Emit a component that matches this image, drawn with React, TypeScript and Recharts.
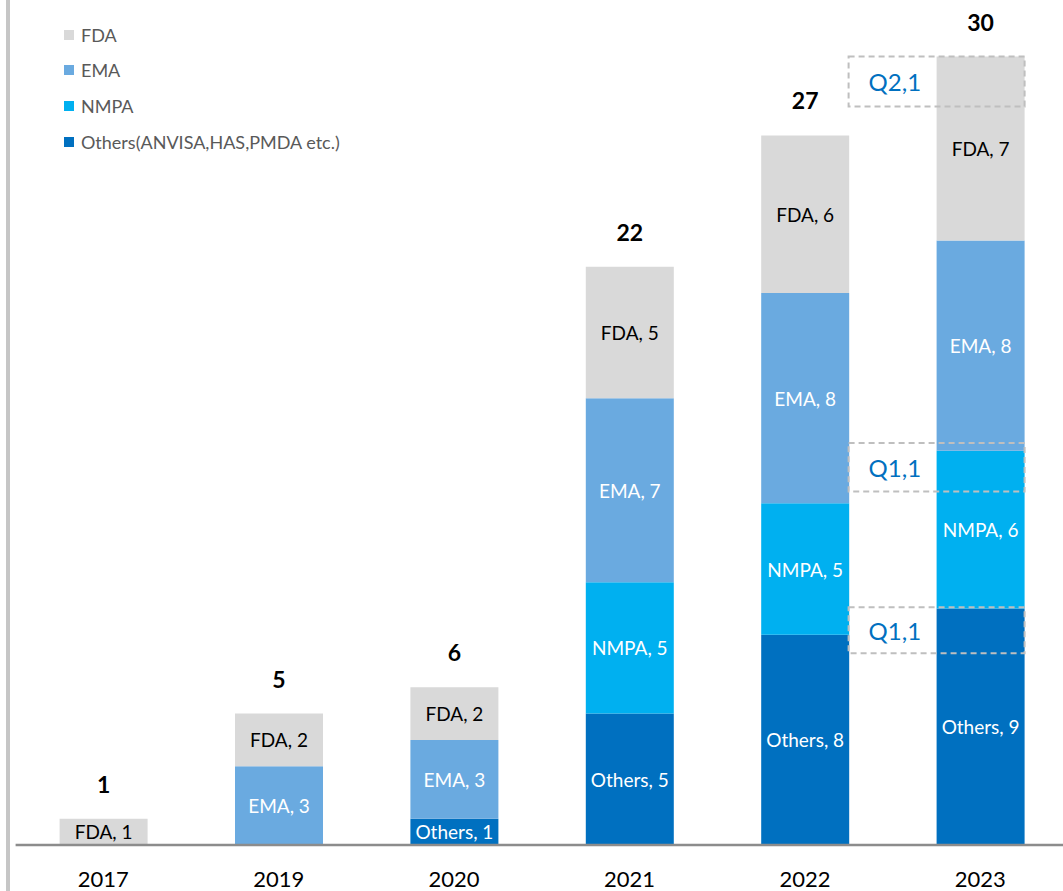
import React from 'react';
import { BarChart, Bar, XAxis, YAxis, LabelList } from 'recharts';

const years = ['2017', '2019', '2020', '2021', '2022', '2023'];
const othersValues = [0, 0, 1, 5, 8, 9];
const nmpaValues = [0, 0, 0, 5, 5, 6];
const emaValues = [0, 3, 3, 7, 8, 8];
const fdaValues = [1, 2, 2, 5, 6, 7];

const seriesInfo = [
  { key: 'others', short: 'Others', legend: 'Others(ANVISA,HAS,PMDA etc.)', color: '#0070C0', text: '#FFFFFF', values: othersValues },
  { key: 'nmpa', short: 'NMPA', legend: 'NMPA', color: '#00B0F0', text: '#FFFFFF', values: nmpaValues },
  { key: 'ema', short: 'EMA', legend: 'EMA', color: '#6AAAE0', text: '#FFFFFF', values: emaValues },
  { key: 'fda', short: 'FDA', legend: 'FDA', color: '#D9D9D9', text: '#000000', values: fdaValues },
];

// quarter annotations: attached to a segment; span given in value units below the segment top
const quarterNotes = [
  { year: '2023', series: 'fda', label: 'Q2,1', from: 0, to: 1.9 },
  { year: '2023', series: 'nmpa', label: 'Q1,1', from: -0.3, to: 1.55 },
  { year: '2023', series: 'others', label: 'Q1,1', from: -0.05, to: 1.7 },
];

const data = years.map((year, i) => ({
  year,
  others: othersValues[i],
  nmpa: nmpaValues[i],
  ema: emaValues[i],
  fda: fdaValues[i],
  total: othersValues[i] + nmpaValues[i] + emaValues[i] + fdaValues[i],
}));

const FONT = 'Lato, sans-serif';

const makeSegmentLabel = (name: string, color: string) => (props: any) => {
  const { x, y, width, height, value } = props;
  if (!value) return null;
  return (
    <text
      x={Number(x) + Number(width) / 2}
      y={Number(y) + Number(height) / 2}
      textAnchor="middle"
      dominantBaseline="central"
      fill={color}
      fontSize={19}
      fontFamily={FONT}
    >
      {`${name}, ${value}`}
    </text>
  );
};

const makeNote = (seriesKey: string, values: number[]) => (props: any) => {
  const { x, y, width, height, value } = props;
  const note = quarterNotes.find((n) => n.series === seriesKey && n.year === value);
  if (!note) return null;
  const i = years.indexOf(String(value));
  const segVal = values[i];
  if (!segVal) return null;
  const ppu = Number(height) / segVal;
  const bx = Number(x);
  const bw = Number(width);
  const left = bx - bw;
  const right = bx + bw;
  const top = Number(y) + note.from * ppu;
  const bottom = Number(y) + note.to * ppu;
  return (
    <g>
      <rect
        x={left}
        y={top}
        width={right - left}
        height={bottom - top}
        fill="none"
        stroke="#BFBFBF"
        strokeWidth={2}
        strokeDasharray="6 4"
      />
      <text
        x={left + 20}
        y={(top + bottom) / 2}
        textAnchor="start"
        dominantBaseline="central"
        fill="#0070C0"
        fontSize={24}
        fontFamily={FONT}
      >
        {note.label}
      </text>
    </g>
  );
};

const TotalLabel = (props: any) => {
  const { x, y, width, value } = props;
  return (
    <text
      x={Number(x) + Number(width) / 2}
      y={Number(y) - 35}
      textAnchor="middle"
      dominantBaseline="central"
      fill="#000"
      fontSize={23}
      fontWeight={700}
      fontFamily={FONT}
    >
      {value}
    </text>
  );
};

const LegendBox = () => {
  const items = [...seriesInfo].reverse();
  return (
    <div style={{ position: 'absolute', left: 64, top: 17, fontFamily: FONT, zIndex: 2 }}>
      {items.map((s) => (
        <div key={s.key} style={{ height: 35.6, display: 'flex', alignItems: 'center' }}>
          <span style={{ width: 10, height: 10, background: s.color, display: 'inline-block', marginRight: 7 }} />
          <span style={{ fontSize: 18, color: '#595959' }}>{s.legend}</span>
        </div>
      ))}
    </div>
  );
};

export default function App() {
  return (
    <div style={{ position: 'absolute', left: 0, top: 0, width: 1063, height: 891, overflow: 'hidden', background: '#fff' }}>
      <div style={{ position: 'absolute', left: 6, top: 0, width: 4, height: 891, background: '#C6C6C6' }} />
      <LegendBox />
      <BarChart
        width={1068}
        height={891}
        data={data}
        margin={{ top: 4, right: 0, left: 15.6, bottom: 0 }}
      >
        <XAxis
          dataKey="year"
          axisLine={{ stroke: '#8C8C8C', strokeWidth: 2.5 }}
          tickLine={false}
          tickMargin={20}
          height={46}
          tick={{ fontSize: 22, fill: '#000', fontFamily: FONT }}
          interval={0}
        />
        <YAxis hide domain={[0, 32]} allowDataOverflow />
        {seriesInfo.map((s) => (
          <Bar key={s.key} dataKey={s.key} stackId="a" fill={s.color} barSize={88} isAnimationActive={false}>
            <LabelList dataKey={s.key} content={makeSegmentLabel(s.short, s.text)} />
            <LabelList dataKey="year" content={makeNote(s.key, s.values)} />
            {s.key === 'fda' ? <LabelList dataKey="total" content={TotalLabel} /> : null}
          </Bar>
        ))}
      </BarChart>
    </div>
  );
}
